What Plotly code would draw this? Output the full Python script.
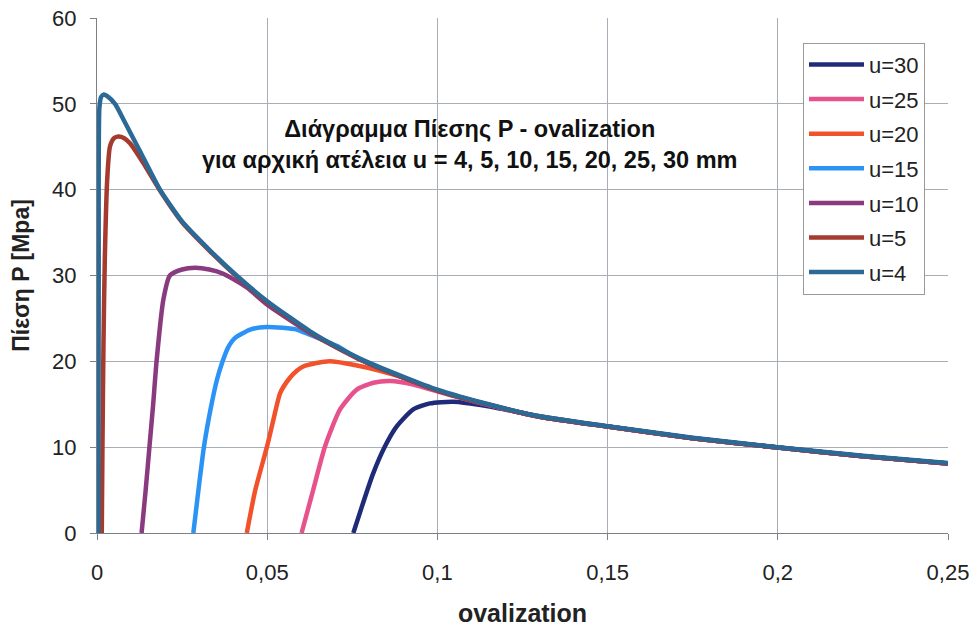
import plotly.graph_objects as go

# Pressure P [MPa] against ovalization for each initial imperfection u [mm]
labels = ["u=30", "u=25", "u=20", "u=15", "u=10", "u=5", "u=4"]
colors = ["#1f2b78", "#e8528c", "#f2522b", "#2a93f5", "#8a3a7e", "#a53a2e", "#2b6a96"]

ov_u30 = [0.0753, 0.078, 0.081, 0.0846, 0.088, 0.0929, 0.0978, 0.1047, 0.1145, 0.13, 0.15, 0.175, 0.2, 0.225, 0.25]
p_u30 = [0, 3.3, 6.8, 10.1, 12.4, 14.4, 15.1, 15.3, 14.8, 13.6, 12.4, 11.05, 9.95, 8.95, 8.1]

ov_u25 = [0.0601, 0.0635, 0.067, 0.0714, 0.0763, 0.0812, 0.0861, 0.0929, 0.1017, 0.115, 0.13, 0.15, 0.175, 0.2, 0.225, 0.25]
p_u25 = [0, 5, 10.1, 14.4, 16.7, 17.5, 17.7, 17.3, 16.3, 14.9, 13.55, 12.4, 11.05, 9.95, 8.95, 8.1]

ov_u20 = [0.044, 0.0465, 0.0499, 0.052, 0.0538, 0.0565, 0.0587, 0.0606, 0.0645, 0.0684, 0.0753, 0.0831, 0.09, 0.1, 0.115, 0.13, 0.15, 0.175, 0.2, 0.225, 0.25]
p_u20 = [0, 5, 10, 13.5, 16.3, 18.0, 18.9, 19.4, 19.8, 20.0, 19.6, 18.9, 18.1, 16.6, 14.95, 13.55, 12.4, 11.05, 9.95, 8.95, 8.1]

ov_u15 = [0.0283, 0.0298, 0.0314, 0.0333, 0.0352, 0.0369, 0.0385, 0.0405, 0.045, 0.0498, 0.0545, 0.0587, 0.0606, 0.0704, 0.0763, 0.085, 0.1, 0.115, 0.13, 0.15, 0.175, 0.2, 0.225, 0.25]
p_u15 = [0, 5, 10, 14.3, 17.8, 20, 21.6, 22.7, 23.7, 24.0, 23.9, 23.7, 23.4, 21.8, 20.4, 18.9, 16.6, 14.95, 13.55, 12.4, 11.05, 9.95, 8.95, 8.1]

ov_u10 = [0.0131, 0.0143, 0.0154, 0.0165, 0.0175, 0.0195, 0.0214, 0.025, 0.0288, 0.033, 0.0371, 0.044, 0.05, 0.0626, 0.07, 0.079, 0.09, 0.1, 0.115, 0.13, 0.15, 0.175, 0.2, 0.225, 0.25]
p_u10 = [0, 5, 10, 15, 20, 27.2, 30.0, 30.7, 30.9, 30.7, 30.2, 28.6, 26.6, 23.3, 21.7, 19.9, 18.1, 16.6, 14.95, 13.55, 12.4, 11.05, 9.95, 8.95, 8.1]

ov_u5 = [0.0014, 0.0016, 0.0019, 0.0023, 0.003, 0.0038, 0.005, 0.0063, 0.008, 0.0097, 0.0136, 0.0185, 0.025, 0.033, 0.041, 0.05, 0.0626, 0.07, 0.079, 0.09, 0.1, 0.115, 0.13, 0.15, 0.175, 0.2, 0.225, 0.25]
p_u5 = [0, 10, 22, 32, 41.2, 45, 46, 46.2, 46, 45.4, 43.1, 39.9, 36.2, 32.9, 29.9, 26.9, 23.4, 21.7, 19.9, 18.1, 16.6, 14.95, 13.55, 12.4, 11.05, 9.95, 8.95, 8.1]

ov_u4 = [0.0004, 0.0005, 0.0007, 0.0012, 0.002, 0.003, 0.0053, 0.008, 0.0126, 0.0185, 0.025, 0.033, 0.041, 0.05, 0.0626, 0.07, 0.079, 0.09, 0.1, 0.115, 0.13, 0.15, 0.175, 0.2, 0.225, 0.25]
p_u4 = [0, 30, 49.5, 50.8, 51.1, 50.9, 50, 48, 44.5, 40, 36.3, 33, 30, 27, 23.5, 21.8, 20, 18.2, 16.7, 15, 13.6, 12.45, 11.1, 10, 9, 8.15]

x_ticks = [0, 0.05, 0.1, 0.15, 0.2, 0.25]
x_tick_text = ["0", "0,05", "0,1", "0,15", "0,2", "0,25"]
y_ticks = [0, 10, 20, 30, 40, 50, 60]

series = [
    (ov_u30, p_u30), (ov_u25, p_u25), (ov_u20, p_u20), (ov_u15, p_u15),
    (ov_u10, p_u10), (ov_u5, p_u5), (ov_u4, p_u4),
]

font_family = "Liberation Sans, Arial, sans-serif"

fig = go.Figure()
for name, color, (xs, ys) in zip(labels, colors, series):
    fig.add_trace(go.Scatter(
        x=xs, y=ys, mode="lines", name=name, legendgroup=name,
        line=dict(color=color, width=4.5, shape="spline", smoothing=0.6),
    ))

fig.add_annotation(
    x=0.1096, y=45.3, xref="x", yref="y", showarrow=False,
    text="<b>Διάγραμμα Πίεσης P - ovalization<br>για αρχική ατέλεια u = 4, 5, 10, 15, 20, 25, 30 mm</b>",
    font=dict(family=font_family, size=23.5, color="#111111"),
    align="center",
)

grid = "#a9adb5"
fig.update_layout(
    width=976, height=630,
    margin=dict(l=97, r=28, t=18, b=97),
    paper_bgcolor="white", plot_bgcolor="white",
    font=dict(family=font_family, size=22, color="#222222"),
    showlegend=True,
    legend=dict(
        x=0.8296, y=0.952, xanchor="left", yanchor="top",
        bgcolor="white", bordercolor="#9a9a9a", borderwidth=1,
        font=dict(family=font_family, size=22, color="#222222"),
        tracegroupgap=3, traceorder="grouped", itemwidth=55,
    ),
    xaxis=dict(
        range=[0, 0.25], tickvals=x_ticks, ticktext=x_tick_text,
        showgrid=True, gridcolor=grid, gridwidth=1,
        showline=True, linecolor="#7d8088", linewidth=1,
        ticks="outside", ticklen=6, tickcolor="#7d8088",
        ticklabelstandoff=14, automargin=False,
        zeroline=False, mirror=False,
        title=dict(text="<b>ovalization</b>", font=dict(size=25), standoff=20),
    ),
    yaxis=dict(
        range=[0, 60], tickvals=y_ticks,
        showgrid=True, gridcolor=grid, gridwidth=1,
        showline=True, linecolor="#7d8088", linewidth=1,
        ticks="outside", ticklen=6, tickcolor="#7d8088",
        ticklabelstandoff=9, automargin=False,
        zeroline=False,
        title=dict(text="<b>Πίεση P [Mpa]</b>", font=dict(size=23), standoff=16),
    ),
)

fig.write_html("out.html")
